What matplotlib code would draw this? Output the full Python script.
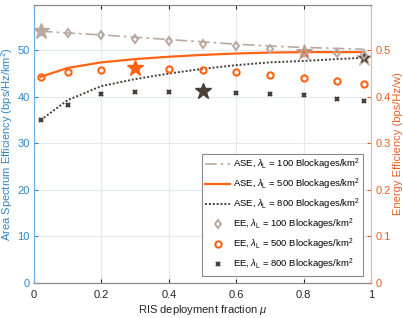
import matplotlib
matplotlib.use("Agg")
import matplotlib.pyplot as plt
from matplotlib.lines import Line2D

plt.rcParams['font.family'] = ['Liberation Sans', 'DejaVu Sans']
plt.rcParams['mathtext.fontset'] = 'custom'
plt.rcParams['mathtext.rm'] = 'Liberation Sans'
plt.rcParams['mathtext.it'] = 'Liberation Sans:italic'

# ---- data ----
mu = [0.02, 0.1, 0.2, 0.3, 0.4, 0.5, 0.6, 0.7, 0.8, 0.9, 0.98]
ase_100 = [54.1, 53.7, 53.3, 52.8, 52.3, 51.8, 51.3, 50.9, 50.6, 50.4, 50.2]
ase_500 = [44.3, 46.2, 47.4, 48.1, 48.6, 49.0, 49.3, 49.5, 49.6, 49.6, 49.6]
ase_800 = [35.0, 39.3, 42.3, 43.8, 45.0, 46.0, 46.8, 47.4, 47.7, 48.1, 48.4]
ee_100 = [0.541, 0.536, 0.532, 0.525, 0.520, 0.514, 0.509, 0.502, 0.496, 0.494, 0.490]
ee_500 = [0.443, 0.453, 0.458, 0.461, 0.459, 0.457, 0.453, 0.446, 0.441, 0.433, 0.428]
ee_800 = [0.350, 0.382, 0.405, 0.411, 0.411, 0.412, 0.409, 0.405, 0.403, 0.396, 0.392]
xticks = [0, 0.2, 0.4, 0.6, 0.8, 1]
yticks_l = [0, 10, 20, 30, 40, 50]
yticks_r = [0, 0.1, 0.2, 0.3, 0.4, 0.5]

GRAY = '#b9a9a1'
ORANGE = '#ff6414'
DARK = '#4a3e3a'
BLUE = '#2f86c8'
RORANGE = '#e0622a'
DASHDOT = (0, (7, 2.5, 1.5, 2.5))

fig = plt.figure(figsize=(4.03, 3.18), dpi=100)
ax = fig.add_axes([0.0844, 0.110, 0.8362, 0.874])
ax2 = ax.twinx()

ax.set_xlim(0, 1)
ax.set_ylim(0, 59.7)
ax2.set_ylim(0, 0.597)

ax.grid(True, color='#e3e9ef', linewidth=0.8)
ax.set_axisbelow(True)

# ASE lines
ax.plot(mu, ase_100, linestyle=DASHDOT, color=GRAY, lw=1.2)
ax.plot(mu, ase_500, '-', color=ORANGE, lw=1.6)
ax.plot(mu, ase_800, linestyle=(0, (1, 1)), color=DARK, lw=1.4)

# EE markers
ax2.plot(mu, ee_100, linestyle='none', marker='d', ms=4.5, mfc='none', mec=GRAY, mew=1.4)
ax2.plot(mu, ee_500, linestyle='none', marker='o', ms=4.5, mfc='none', mec=ORANGE, mew=1.5)
ax2.plot(mu, ee_800, linestyle='none', marker='x', ms=3, color=DARK, mew=1.6)

# optimum stars
i = ee_100.index(max(ee_100))
ax2.plot(mu[i], ee_100[i], marker='*', ms=12, color=GRAY, mec=GRAY)
i = ee_500.index(max(ee_500))
ax2.plot(mu[i], ee_500[i], marker='*', ms=12, color=ORANGE, mec=ORANGE)
i = ee_800.index(max(ee_800))
ax2.plot(mu[i], ee_800[i], marker='*', ms=12, color=DARK, mec=DARK)
ax.plot(0.8, ase_500[8], marker='*', ms=12, color=ORANGE, mec=GRAY, mew=0.8, zorder=5)
ax.plot(mu[-1], ase_800[-1], marker='*', ms=12, color=DARK, mec='#c8bcb6', mew=0.8, zorder=5)

# axes styling
ax.set_xticks(xticks)
ax.set_xticklabels(['0', '0.2', '0.4', '0.6', '0.8', '1'])
ax.set_yticks(yticks_l)
ax2.set_yticks(yticks_r)
ax2.set_yticklabels(['0', '0.1', '0.2', '0.3', '0.4', '0.5'])

ax.tick_params(axis='x', direction='in', top=True, length=3, labelsize=8, colors='#262626', pad=5)
ax.tick_params(axis='y', direction='in', length=3, labelsize=8, colors=BLUE, pad=3)
ax2.tick_params(axis='y', direction='in', length=3, labelsize=8, colors=RORANGE, pad=3)

for a in (ax, ax2):
    a.spines['top'].set_color('#8a8a8a')
    a.spines['bottom'].set_color('#8a8a8a')
    a.spines['left'].set_color('#6fb0e0')
    a.spines['right'].set_color('#f0b89a')
    for s in a.spines.values():
        s.set_linewidth(0.8)

ax.set_xlabel(r'RIS deployment fraction $\mu$', fontsize=8, color='#262626', labelpad=2)
ax.set_ylabel(r'Area Spectrum Efficiency (bps/Hz/km$^2$)', fontsize=8, color=BLUE, labelpad=2)
ax2.set_ylabel('Energy Efficiency (bps/Hz/w)', fontsize=8, color=RORANGE, labelpad=2)

lab = lambda kind, v: kind + r', $\lambda_\mathrm{L}$ = ' + str(v) + r' Blockages/km$^2$'
handles = [
    Line2D([], [], linestyle=DASHDOT, color=GRAY, lw=1.2),
    Line2D([], [], linestyle='-', color=ORANGE, lw=1.6),
    Line2D([], [], linestyle=(0, (1, 1)), color=DARK, lw=1.4),
    Line2D([], [], linestyle='none', marker='d', ms=4.5, mfc='none', mec=GRAY, mew=1.4),
    Line2D([], [], linestyle='none', marker='o', ms=4.5, mfc='none', mec=ORANGE, mew=1.5),
    Line2D([], [], linestyle='none', marker='x', ms=3, color=DARK, mew=1.6),
]
labels = [lab('ASE', 100), lab('ASE', 500), lab('ASE', 800),
          lab('EE', 100), lab('EE', 500), lab('EE', 800)]
leg = ax2.legend(handles, labels, loc='lower right', bbox_to_anchor=(0.983, 0.02),
                 fontsize=6.8, frameon=True, fancybox=False, framealpha=1,
                 edgecolor='#8a8a8a', handlelength=2.6, handletextpad=0.35,
                 labelspacing=0.5, borderpad=0.35, borderaxespad=0.2)
leg.get_frame().set_linewidth(0.8)

fig.savefig('out.png', dpi=100)
